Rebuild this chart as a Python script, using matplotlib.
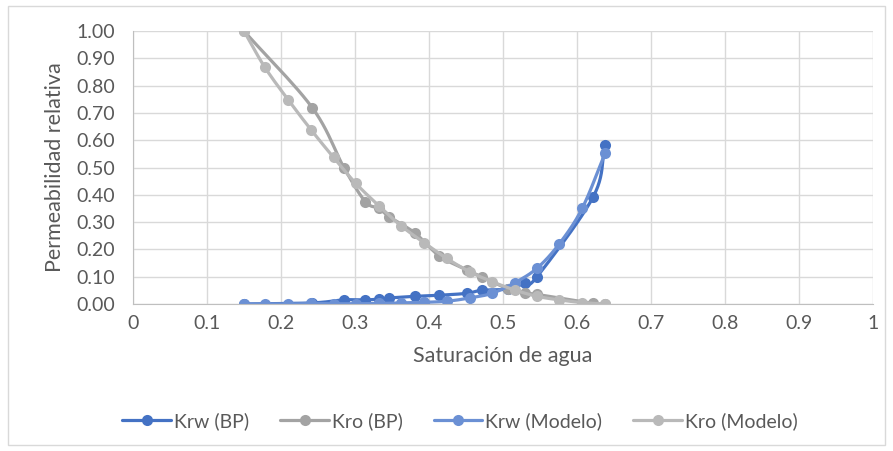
import numpy as np
import matplotlib
matplotlib.use("Agg")
import matplotlib.pyplot as plt
from matplotlib.patches import Rectangle

# Datos
sw_bp = [0.150, 0.242, 0.285, 0.314, 0.333, 0.346, 0.381, 0.414, 0.451, 0.471, 0.507, 0.530, 0.546, 0.622, 0.638]
krw_bp = [0.000, 0.004, 0.015, 0.015, 0.018, 0.022, 0.028, 0.032, 0.039, 0.050, 0.055, 0.078, 0.100, 0.393, 0.582]
kro_bp = [1.000, 0.720, 0.500, 0.375, 0.350, 0.320, 0.260, 0.176, 0.125, 0.100, 0.055, 0.040, 0.035, 0.002, 0.000]

sw_mod = [0.150, 0.178, 0.210, 0.241, 0.271, 0.301, 0.333, 0.362, 0.393, 0.424, 0.455, 0.485, 0.516, 0.546, 0.576, 0.607, 0.638]
krw_mod = [0.000, 0.000, 0.000, 0.002, 0.001, 0.001, 0.002, 0.004, 0.006, 0.010, 0.022, 0.039, 0.078, 0.131, 0.220, 0.350, 0.552]
kro_mod = [1.000, 0.868, 0.747, 0.637, 0.537, 0.442, 0.358, 0.287, 0.225, 0.167, 0.118, 0.082, 0.051, 0.028, 0.015, 0.005, 0.000]

x_ticks = [0, 0.1, 0.2, 0.3, 0.4, 0.5, 0.6, 0.7, 0.8, 0.9, 1]
x_labels = ["0", "0.1", "0.2", "0.3", "0.4", "0.5", "0.6", "0.7", "0.8", "0.9", "1"]
y_ticks = [0, 0.1, 0.2, 0.3, 0.4, 0.5, 0.6, 0.7, 0.8, 0.9, 1.0]

plt.rcParams['font.family'] = ['Lato', 'DejaVu Sans']

N = 12


def smooth(x, y):
    # linea suavizada tipo Excel (Catmull-Rom), pasa por los puntos
    x = np.asarray(x, float)
    y = np.asarray(y, float)
    px = np.concatenate([[2 * x[0] - x[1]], x, [2 * x[-1] - x[-2]]])
    py = np.concatenate([[2 * y[0] - y[1]], y, [2 * y[-1] - y[-2]]])
    t = np.linspace(0, 1, N, endpoint=False)
    xs, ys = [], []
    for i in range(1, len(px) - 2):
        for arr, out in ((px, xs), (py, ys)):
            p0, p1, p2, p3 = arr[i - 1], arr[i], arr[i + 1], arr[i + 2]
            out.extend(0.5 * (2 * p1 + (-p0 + p2) * t + (2 * p0 - 5 * p1 + 4 * p2 - p3) * t ** 2
                              + (-p0 + 3 * p1 - 3 * p2 + p3) * t ** 3))
    xs.append(x[-1])
    ys.append(y[-1])
    return xs, ys, list(range(0, len(xs), N))


fig = plt.figure(figsize=(8.93, 4.51), dpi=100)
ax = fig.add_axes([0.149, 0.326, 0.8285, 0.605])

fig.patches.append(Rectangle((8 / 893, 6 / 451), 877 / 893, 439 / 451, transform=fig.transFigure,
                             fill=False, edgecolor='#D9D9D9', linewidth=1))

series = [
    (sw_bp, krw_bp, '#4472C4', 'Krw (BP)'),
    (sw_bp, kro_bp, '#A3A3A3', 'Kro (BP)'),
    (sw_mod, krw_mod, '#6B90D4', 'Krw (Modelo)'),
    (sw_mod, kro_mod, '#B9B9B9', 'Kro (Modelo)'),
]
for x, y, c, lab in series:
    xs, ys, idx = smooth(x, y)
    ax.plot(xs, ys, color=c, lw=2.3, marker='o', markersize=8, markevery=idx,
            markeredgewidth=0, label=lab, solid_capstyle='round')

ax.set_xlim(0, 1)
ax.set_ylim(0, 1)
ax.set_xticks(x_ticks)
ax.set_xticklabels(x_labels)
ax.set_yticks(y_ticks)
ax.set_yticklabels(["%.2f" % v for v in y_ticks])
ax.grid(True, color='#D9D9D9', lw=1)
ax.set_axisbelow(True)
for s in ['top', 'right']:
    ax.spines[s].set_visible(False)
for s in ['left', 'bottom']:
    ax.spines[s].set_color('#BFBFBF')
ax.tick_params(length=0, labelsize=14, colors='#595959')
ax.tick_params(axis='y', pad=13)
ax.tick_params(axis='x', pad=8)

ax.set_xlabel('Saturación de agua', fontsize=15.5, color='#595959', labelpad=10)
ax.set_ylabel('Permeabilidad relativa', fontsize=15.5, color='#595959', labelpad=8)

leg = ax.legend(loc='center', bbox_to_anchor=(0.442, -0.428), ncol=4, frameon=False,
                fontsize=14, handlelength=2.5, columnspacing=1.6, handletextpad=0.15,
                labelcolor='#595959')

fig.savefig('out.png', dpi=100)
